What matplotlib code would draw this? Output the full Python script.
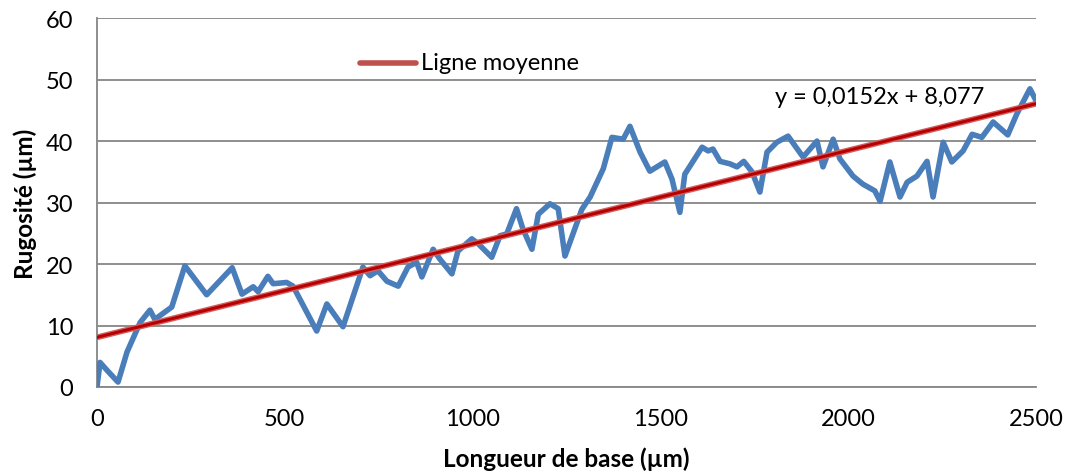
import matplotlib.pyplot as plt

# profil de rugosité relevé le long de la longueur de base
x_um = [0, 8, 30, 56, 80, 115, 141, 154, 199, 234, 292, 360, 386, 416, 429, 455,
        469, 505, 522, 585, 612, 655, 708, 727, 748, 772, 802, 828, 851, 865,
        895, 913, 945, 961, 998, 1015, 1051, 1073, 1091, 1117, 1134, 1158, 1175,
        1206, 1228, 1246, 1291, 1313, 1348, 1371, 1401, 1419, 1446, 1472, 1512,
        1531, 1552, 1565, 1611, 1627, 1640, 1659, 1685, 1704, 1722, 1744, 1765,
        1784, 1810, 1840, 1880, 1917, 1933, 1960, 1978, 2013, 2039, 2071, 2085,
        2111, 2138, 2157, 2183, 2210, 2226, 2253, 2276, 2306, 2330, 2356, 2386,
        2425, 2449, 2484, 2500]
rugosite = [0, 4, 2.5, 0.8, 5.7, 10.5, 12.5, 11, 13, 19.7, 15, 19.4, 15.1, 16.3,
            15.5, 18, 16.8, 17, 16.4, 9.1, 13.5, 9.8, 19.5, 18.1, 18.9, 17.2,
            16.4, 19.5, 20.3, 17.9, 22.4, 20.8, 18.4, 22.1, 24.1, 23.3, 21.1,
            24.6, 24.9, 29, 25.7, 22.4, 28.1, 29.8, 29, 21.3, 28.9, 30.9, 35.5,
            40.6, 40.3, 42.4, 38.2, 35.1, 36.6, 33.8, 28.4, 34.6, 39, 38.4, 38.7,
            36.7, 36.3, 35.8, 36.7, 35, 31.7, 38.2, 39.8, 40.8, 37.4, 40, 35.8,
            40.3, 37.1, 34.3, 33, 31.9, 30.2, 36.6, 30.9, 33.3, 34.3, 36.7, 30.9,
            39.8, 36.6, 38.4, 41.1, 40.6, 43.1, 41, 44.4, 48.5, 46.6]

# droite de régression : y = 0,0152x + 8,077
pente = 0.0152
ordonnee = 8.077
x_ligne = [0, 2500]
y_ligne = [pente * v + ordonnee for v in x_ligne]

plt.rcParams['font.family'] = ['Lato', 'DejaVu Sans']

fig = plt.figure(figsize=(10.67, 4.77), dpi=100)
ax = fig.add_axes([0.0909, 0.1866, 0.880, 0.7734])

ax.plot(x_um, rugosite, color='#4A7EBB', lw=4, solid_joinstyle='round',
        solid_capstyle='round', zorder=3)
ax.plot(x_ligne, y_ligne, color='#D06060', lw=4.2, zorder=4)
ax.plot(x_ligne, y_ligne, color='#B80000', lw=2.2, zorder=5)

ax.set_xlim(0, 2500)
ax.set_ylim(0, 60)
ax.set_xticks(range(0, 2501, 500))
ax.set_yticks(range(0, 61, 10))
ax.yaxis.grid(True, color='#868686', lw=1.3)
ax.set_axisbelow(True)
ax.tick_params(length=0, labelsize=17)
ax.tick_params(axis='x', pad=15)
ax.tick_params(axis='y', pad=17)
for side in ['top', 'right']:
    ax.spines[side].set_visible(False)
for side in ['left', 'bottom']:
    ax.spines[side].set_color('#868686')
    ax.spines[side].set_linewidth(1.3)

ax.set_xlabel('Longueur de base (µm)', fontsize=17.5, fontweight='bold', labelpad=13)
ax.set_ylabel('Rugosité (µm)', fontsize=17.5, fontweight='bold', labelpad=6)

# légende de la droite moyenne
ax.plot([700, 850], [52.7, 52.7], color='#C0504D', lw=4, solid_capstyle='round',
        clip_on=False)
ax.text(862, 52.7, 'Ligne moyenne', fontsize=17, va='center', ha='left')

ax.text(1805, 47.2, 'y = 0,0152x + 8,077', fontsize=17, va='center', ha='left')

fig.savefig('out.png', dpi=100)
